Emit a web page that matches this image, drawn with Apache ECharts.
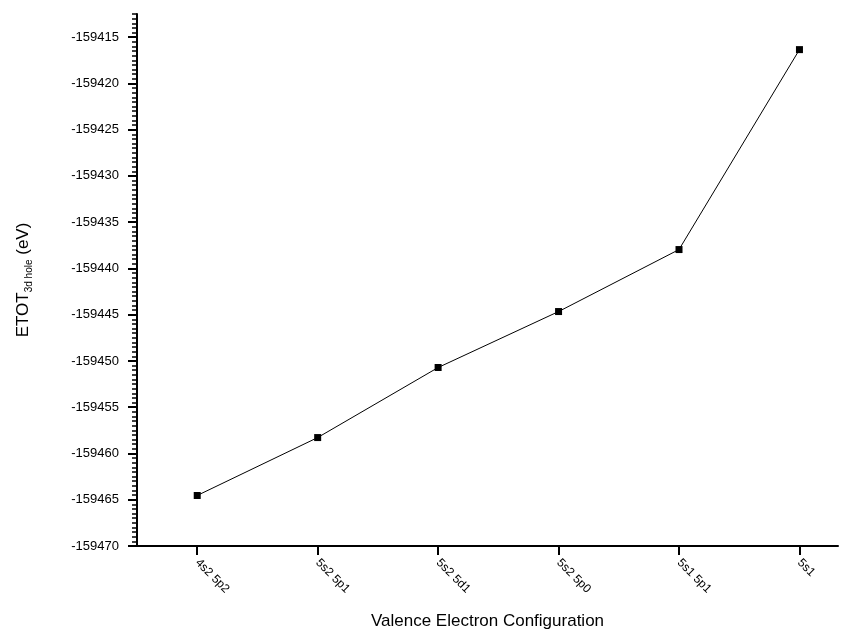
<!DOCTYPE html>
<html>
<head>
<meta charset="utf-8">
<script src="https://cdn.jsdelivr.net/npm/echarts@6/dist/echarts.min.js"></script>
<style>
html,body{margin:0;padding:0;background:#fff;}
#chart{width:849px;height:635px;}
</style>
</head>
<body>
<div id="chart"></div>
<script>
var categories = ["4s2 5p2", "5s2 5p1", "5s2 5d1", "5s2 5p0", "5s1 5p1", "5s1"];
var etotValues = [-159464.54, -159458.28, -159450.71, -159444.66, -159437.96, -159416.35];
var yTickLabels = [-159470, -159465, -159460, -159455, -159450, -159445, -159440, -159435, -159430, -159425, -159420, -159415];

var FONT = "Liberation Sans, Arial, sans-serif";
var points = etotValues.map(function (v, i) { return [i, v]; });
var catIdx = categories.map(function (c, i) { return i; });

var chart = echarts.init(document.getElementById('chart'));
chart.setOption({
  backgroundColor: '#ffffff',
  animation: false,
  grid: { left: 137, right: 11, top: 14, bottom: 88, containLabel: false },
  xAxis: {
    type: 'value',
    min: -0.5,
    max: 5.32,
    name: 'Valence Electron Configuration',
    nameLocation: 'middle',
    nameGap: 67,
    nameTextStyle: { fontFamily: FONT, fontSize: 17, color: '#000' },
    axisLine: { show: true, onZero: false, lineStyle: { color: '#000', width: 2 } },
    axisTick: { show: true, customValues: catIdx, length: 9, lineStyle: { color: '#000', width: 2 } },
    axisLabel: {
      customValues: catIdx,
      rotate: -45,
      margin: 15,
      fontFamily: FONT, fontSize: 12, color: '#000',
      formatter: function (v) { return categories[Math.round(v)] || ''; }
    },
    splitLine: { show: false }
  },
  yAxis: [{
    type: 'value',
    min: -159470,
    max: -159412.5,
    name: 'ETOT{sub|3d hole} (eV)',
    nameLocation: 'middle',
    nameGap: 103,
    nameTextStyle: {
      fontFamily: FONT, fontSize: 17, color: '#000',
      rich: { sub: { fontFamily: FONT, fontSize: 10, color: '#000', padding: [12, 0, 0, 0] } }
    },
    axisLine: { show: true, onZero: false, lineStyle: { color: '#000', width: 2 } },
    axisTick: { show: true, customValues: yTickLabels, length: 9, lineStyle: { color: '#000', width: 2 } },
    axisLabel: {
      customValues: yTickLabels,
      margin: 18,
      fontFamily: FONT, fontSize: 13, color: '#000',
      formatter: function (v) { return String(v); }
    },
    splitLine: { show: false }
  }, {
    type: 'value',
    position: 'left',
    min: -159470,
    max: -159412.5,
    interval: 0.5,
    axisLine: { show: false, onZero: false },
    axisTick: { show: true, length: 5, lineStyle: { color: '#000', width: 1.5 } },
    axisLabel: { show: false },
    splitLine: { show: false }
  }],
  series: [{
    type: 'line',
    yAxisIndex: 0,
    data: points,
    symbol: 'rect',
    symbolSize: 7,
    lineStyle: { color: '#000', width: 1 },
    itemStyle: { color: '#000' }
  }]
});
</script>
</body>
</html>
